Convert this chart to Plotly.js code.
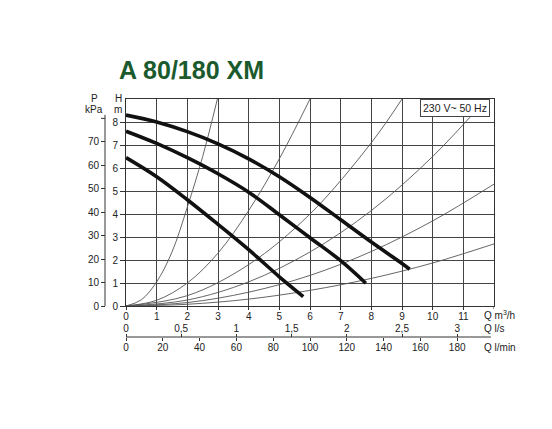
<!DOCTYPE html>
<html>
<head>
<meta charset="utf-8">
<script src="https://cdn.plot.ly/plotly-3.0.1.min.js"></script>
<style>html,body{margin:0;padding:0;background:#fff;}#chart{width:552px;height:429px;}</style>
</head>
<body>
<div id="chart"></div>
<script>
// Pump curves (Q in m3/h, H in m)
const pumpTopQ = [0, 1, 2, 3, 4, 5, 6, 7, 8, 9, 9.25];
const pumpTopH = [8.3, 8.0, 7.58, 7.05, 6.4, 5.62, 4.72, 3.75, 2.78, 1.85, 1.6];
const pumpMidQ = [0, 1, 2, 3, 4, 5, 6, 7, 7.82];
const pumpMidH = [7.6, 7.07, 6.45, 5.75, 4.95, 3.97, 2.97, 1.97, 0.99];
const pumpLowQ = [0, 1, 2, 3, 4, 5, 5.78];
const pumpLowH = [6.45, 5.62, 4.62, 3.55, 2.45, 1.27, 0.41];

// System (resistance) curves
const sys1Q = [0, 0.5, 1, 1.5, 2, 2.5, 2.98];
const sys1H = [0, 0.27, 1.05, 2.35, 4.3, 6.5, 9];
const sys2Q = [0, 1, 2, 3, 4, 5, 6];
const sys2H = [0, 0.25, 1.0, 2.3, 4.15, 6.4, 9];
const sys3Q = [0, 2, 4, 6, 8, 9];
const sys3H = [0, 0.45, 1.8, 4.0, 7.1, 9];
const sys4Q = [0, 2, 4, 6, 8, 10, 11.75];
const sys4H = [0, 0.26, 1.05, 2.35, 4.15, 6.5, 9];
const sys5Q = [0, 2, 4, 6, 8, 10, 12];
const sys5H = [0, 0.15, 0.6, 1.33, 2.37, 3.7, 5.3];
const sys6Q = [0, 2, 4, 6, 8, 10, 12];
const sys6H = [0, 0.075, 0.3, 0.68, 1.2, 1.87, 2.7];

// Tick labels
const qTicks = [0,1,2,3,4,5,6,7,8,9,10,11];
const hTicks = [0,1,2,3,4,5,6,7,8];
const kpaTicks = [0,10,20,30,40,50,60,70];
const kpaTopTick = 80;
const lsTicks = [0,0.5,1,1.5,2,2.5,3];
const lsLabels = ['0','0,5','1','1,5','2','2,5','3'];
const lminTicks = [0,20,40,60,80,100,120,140,160,180];

const FONT = 'Liberation Sans, Arial, sans-serif';
const sysLine = {color:'#555', width:0.9, shape:'spline', smoothing:1};
const pumpLine = {color:'#111', width:3.6, shape:'spline', smoothing:1};

const traces = [];
[[sys1Q,sys1H],[sys2Q,sys2H],[sys3Q,sys3H],[sys4Q,sys4H],[sys5Q,sys5H],[sys6Q,sys6H]].forEach(p=>{
  traces.push({x:p[0], y:p[1], mode:'lines', line:sysLine, hoverinfo:'skip', showlegend:false});
});
[[pumpTopQ,pumpTopH],[pumpMidQ,pumpMidH],[pumpLowQ,pumpLowH]].forEach(p=>{
  traces.push({x:p[0], y:p[1], mode:'lines', line:pumpLine, hoverinfo:'skip', showlegend:false});
});
// empty traces so secondary axes exist
traces.push({x:[], y:[], xaxis:'x', yaxis:'y2', mode:'lines', showlegend:false});
traces.push({x:[], y:[], xaxis:'x2', yaxis:'y', mode:'lines', showlegend:false});
traces.push({x:[], y:[], xaxis:'x3', yaxis:'y', mode:'lines', showlegend:false});

const W = 552, Hh = 429;
const xDom = [126/W, 494/W];
const yDom = [(Hh-306)/Hh, (Hh-99)/Hh];
const flowPos = (Hh-337)/Hh;
const kpaPos = 105/W;
const tickFont = {family:FONT, size:10, color:'#222'};
const lblFont = {family:FONT, size:10, color:'#222'};

function lbl(text, px, py, xa) {
  return {text:text, xref:'paper', yref:'paper', x:px/W, y:(Hh-py)/Hh,
    xanchor:xa||'center', yanchor:'middle', showarrow:false, font:lblFont};
}

const layout = {
  width:W, height:Hh,
  margin:{l:0,r:0,t:0,b:0},
  paper_bgcolor:'#fff', plot_bgcolor:'#fff',
  showlegend:false,
  xaxis:{domain:xDom, range:[0,12], tickvals:qTicks,
    showgrid:true, gridcolor:'#444', gridwidth:1, zeroline:false,
    showline:true, linecolor:'#333', linewidth:1, mirror:true,
    ticks:'outside', ticklen:3, tickcolor:'#333', tickfont:tickFont, ticklabelstandoff:-2, fixedrange:true},
  yaxis:{domain:yDom, range:[0,9], tickvals:hTicks,
    showgrid:true, gridcolor:'#444', gridwidth:1, zeroline:false,
    showline:true, linecolor:'#333', linewidth:1, mirror:true,
    ticks:'outside', ticklen:5, tickcolor:'#333', tickfont:tickFont, fixedrange:true},
  yaxis2:{overlaying:'y', anchor:'free', position:kpaPos, side:'left',
    range:[0, 9*9.80665], tickvals:kpaTicks,
    showgrid:false, zeroline:false, showline:false,
    ticks:'outside', ticklen:4, tickcolor:'#333', tickfont:tickFont, fixedrange:true},
  xaxis2:{overlaying:'x', anchor:'free', position:flowPos, side:'top',
    range:[0, 12/3.6], tickvals:lsTicks, ticktext:lsLabels,
    showgrid:false, zeroline:false, showline:false,
    ticks:'outside', ticklen:3, tickcolor:'#333', tickfont:tickFont, ticklabelstandoff:-2, fixedrange:true},
  xaxis3:{overlaying:'x', anchor:'free', position:flowPos, side:'bottom',
    range:[0, 200], tickvals:lminTicks,
    showgrid:false, zeroline:false, showline:false,
    ticks:'outside', ticklen:3, tickcolor:'#333', tickfont:tickFont, ticklabelstandoff:-2, fixedrange:true},
  shapes:[
    {type:'line', xref:'paper', yref:'y2', x0:kpaPos, x1:kpaPos, y0:0, y1:kpaTopTick+1.5, line:{color:'#333', width:1}},
    {type:'line', xref:'paper', yref:'y2', x0:kpaPos-4/W, x1:kpaPos, y0:kpaTopTick, y1:kpaTopTick, line:{color:'#333', width:1}},
    {type:'line', xref:'x', yref:'paper', x0:0, x1:11.9, y0:flowPos, y1:flowPos, line:{color:'#333', width:1}},
    {type:'line', xref:'x', yref:'paper', x0:12, x1:12, y0:yDom[0], y1:yDom[0]-3/Hh, line:{color:'#333', width:1}}
  ],
  annotations:[
    {text:'<b>A 80/180 XM</b>', xref:'paper', yref:'paper', x:117/W, y:(Hh-70)/Hh, xanchor:'left', yanchor:'middle', showarrow:false,
      font:{family:FONT, size:25, color:'#1a5a2c'}},
    {text:'230 V~ 50 Hz', xref:'paper', yref:'paper', x:490/W, y:(Hh-99)/Hh, xanchor:'right', yanchor:'top', showarrow:false,
      font:{family:FONT, size:10.5, color:'#222'}, bgcolor:'#fff', bordercolor:'#444', borderwidth:1, borderpad:2},
    lbl('P', 94, 98), lbl('kPa', 94, 110),
    lbl('H', 118, 98), lbl('m', 118, 110),
    lbl('Q m<sup>3</sup>/h', 482, 315, 'left'),
    lbl('Q l/s', 482, 328, 'left'),
    lbl('Q l/min', 482, 347, 'left')
  ]
};

Plotly.newPlot('chart', traces, layout, {staticPlot:true, displayModeBar:false});
</script>
</body>
</html>
